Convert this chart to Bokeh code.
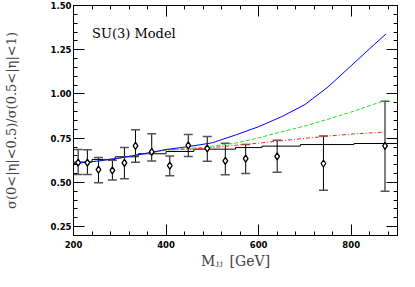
from bokeh.plotting import figure
from bokeh.models import (ColumnDataSource, Whisker, TeeHead, FixedTicker, LinearAxis,
                          PrintfTickFormatter, CustomJSTickFormatter, Label, Range1d)
from bokeh.embed import file_html
from bokeh.resources import INLINE

# ---- data ----
mass = [210, 230, 254, 284, 310, 334, 369, 408, 448, 489, 528, 572, 640, 740, 873]
ratio = [0.612, 0.612, 0.572, 0.568, 0.611, 0.706, 0.673, 0.595, 0.709, 0.693, 0.622, 0.634, 0.647, 0.607, 0.706]
err_lo = [0.545, 0.545, 0.498, 0.513, 0.521, 0.614, 0.621, 0.538, 0.647, 0.620, 0.543, 0.550, 0.557, 0.456, 0.450]
err_hi = [0.686, 0.684, 0.641, 0.625, 0.698, 0.798, 0.775, 0.650, 0.771, 0.759, 0.722, 0.714, 0.738, 0.762, 0.959]

curve_m = [200, 250, 300, 350, 400, 450, 500, 550, 600, 650, 700, 750, 800, 850, 875]
curve_blue = [0.607, 0.620, 0.638, 0.661, 0.686, 0.703, 0.724, 0.768, 0.815, 0.872, 0.940, 1.040, 1.160, 1.280, 1.339]
curve_green = [0.607, 0.620, 0.638, 0.660, 0.683, 0.692, 0.705, 0.722, 0.752, 0.786, 0.819, 0.857, 0.898, 0.943, 0.964]
curve_red = [0.607, 0.620, 0.638, 0.660, 0.683, 0.688, 0.697, 0.710, 0.722, 0.736, 0.749, 0.762, 0.773, 0.781, 0.786]

qcd_edges = [200, 240, 290, 340, 400, 460, 550, 607, 690, 806, 900]
qcd_vals = [0.615, 0.630, 0.645, 0.662, 0.675, 0.688, 0.697, 0.705, 0.714, 0.720, 0.711]

x_major = [200, 400, 600, 800]
x_minor = [240, 280, 320, 360, 440, 480, 520, 560, 640, 680, 720, 760, 840, 880]
y_major = [0.25, 0.50, 0.75, 1.00, 1.25, 1.50]
y_minor = [0.20, 0.30, 0.35, 0.40, 0.45, 0.55, 0.60, 0.65, 0.70, 0.80, 0.85, 0.90, 0.95,
           1.05, 1.10, 1.15, 1.20, 1.30, 1.35, 1.40, 1.45]

p = figure(width=399, height=271, output_backend="svg", toolbar_location=None,
           x_range=Range1d(200, 900), y_range=Range1d(0.2, 1.5),
           min_border_left=72, min_border_right=2, min_border_top=5, min_border_bottom=33)
p.grid.visible = False
p.outline_line_color = "black"
p.outline_line_width = 1
p.background_fill_color = "white"
p.border_fill_color = "white"

xt = FixedTicker(ticks=x_major, minor_ticks=x_minor)
yt = FixedTicker(ticks=y_major, minor_ticks=y_minor)

TICKFONT = "DejaVu Sans"

def style_axis(ax, ticker):
    ax.ticker = ticker
    ax.major_tick_in = 11
    ax.major_tick_out = 0
    ax.minor_tick_in = 4
    ax.minor_tick_out = 0
    ax.axis_line_color = "black"
    ax.major_tick_line_color = "black"
    ax.minor_tick_line_color = "black"
    ax.major_label_text_font = TICKFONT
    ax.major_label_text_font_size = "8.5px"
    ax.major_label_text_font_style = "bold"
    ax.major_label_text_color = "black"

style_axis(p.xaxis[0], xt)
style_axis(p.yaxis[0], yt)
p.xaxis[0].major_label_standoff = 5
p.yaxis[0].major_label_standoff = 2
p.yaxis[0].formatter = PrintfTickFormatter(format="%.2f")
p.xaxis[0].formatter = PrintfTickFormatter(format="%d")

p.yaxis[0].axis_label = "σ(0<|η|<0.5)/σ(0.5<|η|<1)"
p.yaxis[0].axis_label_text_font = "DejaVu Serif"
p.yaxis[0].axis_label_text_font_size = "13px"
p.yaxis[0].axis_label_text_font_style = "normal"
p.yaxis[0].axis_label_standoff = 29

p.xaxis[0].axis_label = "M\u2c7c\u2c7c\u2002[GeV]"
p.xaxis[0].axis_label_text_font = "DejaVu Serif"
p.xaxis[0].axis_label_text_font_size = "14px"
p.xaxis[0].axis_label_text_font_style = "normal"
p.xaxis[0].axis_label_standoff = 2

empty = CustomJSTickFormatter(code="return ''")
top = LinearAxis(formatter=empty, major_label_standoff=0)
right = LinearAxis(formatter=empty, major_label_standoff=0)
style_axis(top, xt)
style_axis(right, yt)
p.add_layout(top, "above")
p.add_layout(right, "right")

# QCD histogram
p.step(x=qcd_edges, y=qcd_vals, mode="after", line_color="black", line_width=1)

# model curves
p.line(curve_m, curve_red, line_color="#ff2020", line_width=1, line_dash="4 2 1 2")
p.line(curve_m, curve_green, line_color="#20e020", line_width=1, line_dash="4 2")
p.line(curve_m, curve_blue, line_color="#0000ff", line_width=1)

# data with error bars
src = ColumnDataSource(dict(m=mass, r=ratio, lo=err_lo, hi=err_hi))
w = Whisker(source=src, base="m", lower="lo", upper="hi", line_color="black", line_width=1,
            upper_head=TeeHead(size=9, line_color="#555555", line_width=1.5),
            lower_head=TeeHead(size=9, line_color="#555555", line_width=1.5))
p.add_layout(w)
p.scatter("m", "r", source=src, marker="diamond", size=7, fill_color="white",
          line_color="black", line_width=1.3)

# in-plot title
p.add_layout(Label(x=240, y=1.34, text="SU(3) Model",
                   text_font="DejaVu Serif", text_font_size="13px", text_color="black",
                   text_baseline="alphabetic"))

open("out.html", "w").write(file_html(p, INLINE))
